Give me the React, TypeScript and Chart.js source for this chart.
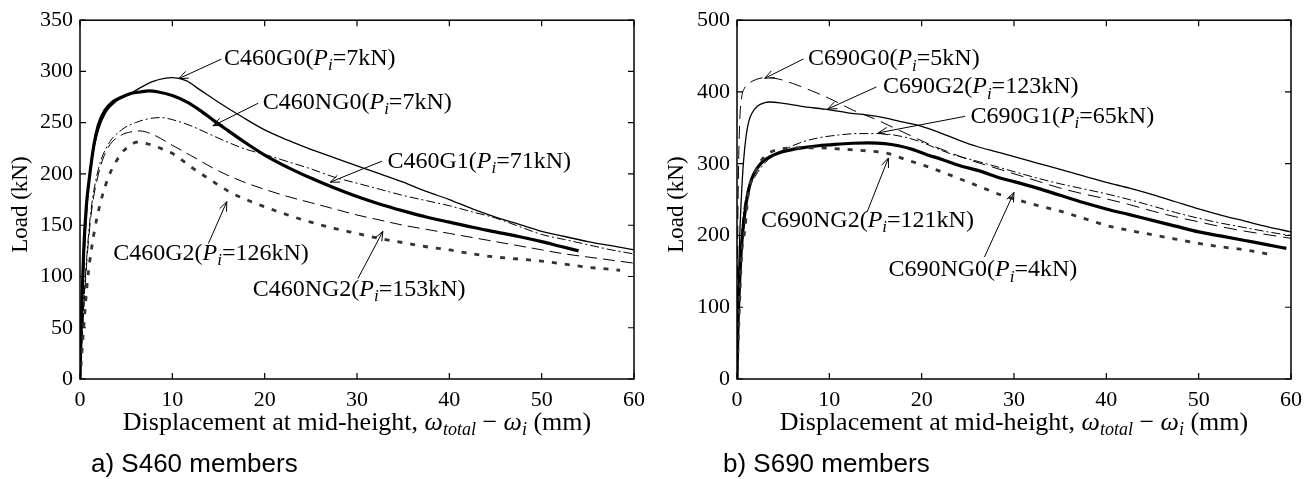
import React, { useEffect, useRef } from "react";
import { Chart, registerables } from "chart.js";

Chart.register(...registerables);

const SERIF = '"Liberation Serif", "Times New Roman", serif';
const SANS = '"Liberation Sans", Arial, sans-serif';

// ---------- Panel a) S460 ----------
const a_xTicks = [0, 10, 20, 30, 40, 50, 60];
const a_yTicks = [0, 50, 100, 150, 200, 250, 300, 350];

const c460G0_x = [0, 0.2, 0.5, 0.9, 1.4, 2.0, 2.8, 3.8, 5.0, 6.5, 8.0, 9.0, 10.0, 11.5, 13, 15, 17.5, 20, 22.5, 25, 27.5, 30, 32.5, 35, 37.5, 40, 42.5, 45, 47.5, 50, 52.5, 55, 57.5, 60];
const c460G0_y = [0, 60, 130, 185, 220, 243, 260, 270, 276, 284, 290.5, 293, 294, 291, 282, 270, 256, 243, 233, 224, 216, 208, 200, 192, 183, 175, 166, 158, 151, 144, 139, 134, 130, 126];

const c460NG0_x = [0, 0.15, 0.4, 0.7, 1.0, 1.5, 2.0, 2.7, 3.5, 4.5, 5.5, 6.5, 7.5, 8.5, 10, 11.5, 13, 14.5, 16, 18, 20, 22.5, 25, 27.5, 30, 32.5, 35, 37.5, 40, 42.5, 45, 47.5, 50, 52, 54];
const c460NG0_y = [0, 60, 125, 170, 195, 228, 248, 262, 270, 275, 278.5, 280, 281, 280, 276.5, 270.5, 262, 252, 242.5, 230, 218.5, 206.5, 196, 186.5, 178, 170.5, 164, 158, 153, 148, 143.5, 139, 134, 129.5, 125];

const c460G1_x = [0, 0.3, 0.7, 1.2, 2, 3, 4.5, 6, 7.5, 8.75, 10, 12, 14, 16, 18, 20, 22.5, 25, 27.5, 30, 32.5, 35, 37.5, 40, 42.5, 45, 47.5, 50, 52.5, 55, 57.5, 60];
const c460G1_y = [0, 55, 115, 165, 205, 228, 243, 250, 254, 255, 253, 247, 239, 231, 224, 219, 212, 205, 197, 191, 185, 179, 174, 169, 163, 157, 149, 141, 136, 131, 126, 122];

const c460NG2_x = [0, 0.3, 0.7, 1.2, 2, 3, 4.5, 5.5, 6.5, 8, 10, 12, 15, 17.5, 20, 22.5, 25, 27.5, 30, 32.5, 35, 37.5, 40, 42.5, 45, 47.5, 50, 52.5, 55, 57.5, 60];
const c460NG2_y = [0, 50, 110, 160, 200, 225, 238, 241, 242, 238, 228, 218, 203, 193, 185, 178, 172, 166, 160, 155, 150, 146, 142, 138, 134, 130, 126, 122, 119, 116, 113];

const c460G2_x = [0, 0.4, 0.8, 1.3, 1.9, 3, 4.4, 5.3, 6.2, 7.5, 9, 10.2, 12, 14, 16.3, 18, 20, 22.5, 25, 27.5, 30, 32.5, 35, 37.5, 40, 42.5, 45, 47.5, 50, 52.5, 55, 57.5, 58.5];
const c460G2_y = [0, 50, 95, 130, 160, 195, 219, 227, 231, 229, 224, 219, 207, 195, 182, 175, 168, 160, 153, 147, 142, 137, 133, 129, 126, 122, 119, 117, 115, 112, 109, 107, 106];

// ---------- Panel b) S690 ----------
const b_xTicks = [0, 10, 20, 30, 40, 50, 60];
const b_yTicks = [0, 100, 200, 300, 400, 500];

const c690G0_x = [0, 0.05, 0.15, 0.3, 0.5, 0.8, 1.3, 2, 3, 4.5, 6, 8, 10, 12.5, 15, 17, 19, 21, 23, 25, 27, 30, 32.5, 35, 37.5, 40, 42.5, 45, 47.5, 50, 52.5, 55, 57.5, 60];
const c690G0_y = [0, 150, 280, 360, 392, 405, 412, 417, 420, 418, 412, 402, 391, 375, 362, 350, 338, 326, 316, 306, 298, 286, 276, 266, 258, 251, 243, 234, 226, 219, 212, 206, 201, 196];

const c690G2_x = [0, 0.1, 0.3, 0.5, 0.7, 1.0, 1.3, 1.6, 2.2, 3.0, 3.6, 5, 7, 9.5, 12, 14, 16, 18, 20, 22, 24, 26, 28, 30, 32.5, 35, 37.5, 40, 42.5, 45, 47.5, 50, 52.5, 55, 57.5, 60];
const c690G2_y = [0, 100, 200, 260, 302, 340, 360, 370, 380, 385, 386, 384, 380, 376, 371, 368, 364, 358, 352, 343, 333, 324, 317, 310, 301, 292, 283, 274, 266, 257, 247, 237, 228, 220, 212, 205];

const c690G1_x = [0, 0.2, 0.5, 1.0, 2, 3.4, 5.2, 7, 8.8, 11, 13, 15.3, 17, 18.5, 20, 21.5, 23.3, 25, 27, 30, 32.5, 35, 37.5, 40, 42.5, 45, 47.5, 50, 52.5, 55, 57.5, 60];
const c690G1_y = [0, 100, 200, 255, 283, 306, 320, 330, 336, 340, 342, 342, 340, 336, 330, 322, 313, 307, 300, 289, 280, 272, 265, 258, 250, 241, 232, 224, 217, 211, 205, 200];

const c690NG0_x = [0, 0.1, 0.3, 0.5, 0.87, 1.2, 1.6, 2.1, 2.7, 3.5, 4.5, 5.7, 7, 8.8, 10.6, 12.5, 14.2, 16, 17.5, 19, 20.5, 22.2, 24, 26.5, 28.5, 30, 32.5, 35, 37.5, 40, 42.5, 45, 47.5, 50, 52.5, 55, 57.5, 59.5];
const c690NG0_y = [0, 70, 140, 187, 233, 260, 279, 292, 302, 309, 315, 319, 322, 325, 327, 328.5, 329, 328, 325, 320, 313, 306, 298, 289, 280, 275, 266, 256, 246, 237, 229, 221, 213, 205, 199, 193, 187, 182];

const c690NG2_x = [0, 0.2, 0.5, 0.87, 1.2, 1.95, 2.85, 4.5, 6.3, 8.8, 11.7, 14, 16.4, 18.2, 20.4, 23.3, 26.9, 28.7, 30, 32.5, 35, 37.5, 40, 42.5, 45, 47.5, 50, 52.5, 55, 58];
const c690NG2_y = [0, 80, 173, 210, 256, 288, 308, 320, 322, 322, 320, 318, 314, 306, 297, 283, 265, 256, 251, 242, 234, 224, 214, 207, 201, 195, 189, 184, 180, 173];

// ---------- helpers ----------
type Seg = { t: string; it?: boolean; sub?: boolean };
type Ann = { name: string; pi: string; lx: number; ly: number; ax: number; ay: number; tx: number; ty: number };

const pts = (xs: number[], ys: number[]) => xs.map((x, i) => ({ x, y: ys[i] }));

function labelSegs(name: string, pi: string): Seg[] {
  return [
    { t: name + "(" },
    { t: "P", it: true },
    { t: "i", it: true, sub: true },
    { t: "=" + pi + "kN)" },
  ];
}

function segFont(s: Seg, size: number, family: string) {
  const sz = s.sub ? Math.round(size * 0.7) : size;
  return `${s.it ? "italic " : ""}${sz}px ${family}`;
}

function drawRich(ctx: CanvasRenderingContext2D, segs: Seg[], x: number, yMid: number, size: number, align: "left" | "center", family = SERIF) {
  let w = 0;
  for (const s of segs) {
    ctx.font = segFont(s, size, family);
    w += ctx.measureText(s.t).width;
  }
  let cx = align === "center" ? x - w / 2 : x;
  const base = yMid + size * 0.33;
  ctx.textBaseline = "alphabetic";
  ctx.textAlign = "left";
  for (const s of segs) {
    ctx.font = segFont(s, size, family);
    ctx.fillText(s.t, cx, s.sub ? base + size * 0.22 : base);
    cx += ctx.measureText(s.t).width;
  }
}

function drawArrow(ctx: CanvasRenderingContext2D, x1: number, y1: number, x2: number, y2: number) {
  const a = Math.atan2(y2 - y1, x2 - x1);
  const L = 10;
  const h = 0.38;
  ctx.beginPath();
  ctx.moveTo(x1, y1);
  ctx.lineTo(x2, y2);
  ctx.moveTo(x2 - L * Math.cos(a - h), y2 - L * Math.sin(a - h));
  ctx.lineTo(x2, y2);
  ctx.lineTo(x2 - L * Math.cos(a + h), y2 - L * Math.sin(a + h));
  ctx.stroke();
}

const xTitle: Seg[] = [
  { t: "Displacement at mid-height, " },
  { t: "ω", it: true },
  { t: "total", it: true, sub: true },
  { t: " − " },
  { t: "ω", it: true },
  { t: "i", it: true, sub: true },
  { t: " (mm)" },
];

function makeDecor(anns: Ann[], caption: string) {
  return {
    id: "decor",
    afterDraw(chart: any) {
      const { ctx, chartArea } = chart;
      const xs = chart.scales.x;
      const ys = chart.scales.y;
      const { left, right, top, bottom } = chartArea;
      ctx.save();
      ctx.strokeStyle = "#000";
      ctx.fillStyle = "#000";
      // box
      ctx.lineWidth = 1.5;
      ctx.strokeRect(left, top, right - left, bottom - top);
      // inward ticks on all sides
      ctx.lineWidth = 1.2;
      const tl = 6;
      ctx.beginPath();
      for (const t of xs.ticks) {
        const p = xs.getPixelForValue(t.value);
        ctx.moveTo(p, bottom);
        ctx.lineTo(p, bottom - tl);
        ctx.moveTo(p, top);
        ctx.lineTo(p, top + tl);
      }
      for (const t of ys.ticks) {
        const p = ys.getPixelForValue(t.value);
        ctx.moveTo(left, p);
        ctx.lineTo(left + tl, p);
        ctx.moveTo(right, p);
        ctx.lineTo(right - tl, p);
      }
      ctx.stroke();
      // annotations
      ctx.lineWidth = 1;
      for (const a of anns) {
        drawArrow(ctx, xs.getPixelForValue(a.ax), ys.getPixelForValue(a.ay), xs.getPixelForValue(a.tx), ys.getPixelForValue(a.ty));
        drawRich(ctx, labelSegs(a.name, a.pi), xs.getPixelForValue(a.lx), ys.getPixelForValue(a.ly), 24, "left");
      }
      // axis titles
      drawRich(ctx, xTitle, (left + right) / 2, bottom + 42, 26, "center");
      ctx.save();
      ctx.translate(19, (top + bottom) / 2 + 5);
      ctx.rotate(-Math.PI / 2);
      drawRich(ctx, [{ t: "Load (kN)" }], 0, 0, 23, "center");
      ctx.restore();
      // caption
      ctx.font = `26px ${SANS}`;
      ctx.textAlign = "left";
      ctx.textBaseline = "middle";
      ctx.fillText(caption, left + (caption.startsWith("a") ? 11 : -14), 465);
      ctx.restore();
    },
  };
}

const thin = { borderColor: "#000", borderWidth: 1.3 };
const thick = { borderColor: "#000", borderWidth: 3.2 };
const dashdot = { borderColor: "#000", borderWidth: 1, borderDash: [9, 3, 2, 3] };
const dashed = { borderColor: "#000", borderWidth: 1, borderDash: [12, 6] };
const dotted = { borderColor: "#333", borderWidth: 2.8, borderDash: [5, 8] };

function ds(label: string, xs: number[], ys: number[], style: any) {
  return {
    label,
    data: pts(xs, ys),
    showLine: true,
    pointRadius: 0,
    fill: false,
    cubicInterpolationMode: "monotone",
    ...style,
  };
}

function makeConfig(datasets: any[], yMax: number, yTicks: number[], xTicks: number[], padL: number, padR: number, plugin: any) {
  const tickFont = { family: SERIF, size: 22 };
  return {
    type: "scatter",
    data: { datasets },
    options: {
      responsive: false,
      animation: false,
      events: [],
      layout: { padding: { left: padL, right: padR, top: 16, bottom: 0 } },
      plugins: { legend: { display: false }, tooltip: { enabled: false } },
      scales: {
        x: {
          type: "linear",
          min: xTicks[0],
          max: xTicks[xTicks.length - 1],
          afterBuildTicks: (s: any) => { s.ticks = xTicks.map((v) => ({ value: v })); },
          ticks: { font: tickFont, color: "#000", padding: 8, maxRotation: 0, autoSkip: false },
          grid: { display: false, drawTicks: false },
          border: { display: false },
          afterFit: (s: any) => { s.height = 100; },
        },
        y: {
          type: "linear",
          min: 0,
          max: yMax,
          afterBuildTicks: (s: any) => { s.ticks = yTicks.map((v) => ({ value: v })); },
          ticks: { font: tickFont, color: "#000", padding: 7, autoSkip: false },
          grid: { display: false, drawTicks: false },
          border: { display: false },
          afterFit: (s: any) => { s.width = 60; },
        },
      },
    },
    plugins: [plugin],
  };
}

const annA: Ann[] = [
  { name: "C460G0", pi: "7", lx: 15.6, ly: 314, ax: 15.3, ay: 312, tx: 10.7, ty: 293 },
  { name: "C460NG0", pi: "7", lx: 19.8, ly: 271, ax: 19.3, ay: 269, tx: 14.4, ty: 247 },
  { name: "C460G1", pi: "71", lx: 33.3, ly: 214, ax: 32.7, ay: 212.5, tx: 27.1, ty: 192 },
  { name: "C460G2", pi: "126", lx: 3.6, ly: 124, ax: 13.9, ay: 132, tx: 15.9, ty: 173 },
  { name: "C460NG2", pi: "153", lx: 18.7, ly: 89, ax: 30.1, ay: 98, tx: 32.8, ty: 144 },
];

const annB: Ann[] = [
  { name: "C690G0", pi: "5", lx: 7.7, ly: 448, ax: 7.2, ay: 446, tx: 3.0, ty: 419 },
  { name: "C690G2", pi: "123", lx: 15.8, ly: 409, ax: 15.1, ay: 407, tx: 9.8, ty: 376 },
  { name: "C690G1", pi: "65", lx: 25.3, ly: 368, ax: 24.7, ay: 366, tx: 15.3, ty: 343 },
  { name: "C690NG2", pi: "121", lx: 2.6, ly: 223, ax: 14.1, ay: 233, tx: 16.4, ty: 308 },
  { name: "C690NG0", pi: "4", lx: 16.4, ly: 154, ax: 26.8, ay: 170, tx: 30.0, ty: 260 },
];

function PanelChart({ which }: { which: "a" | "b" }) {
  const ref = useRef<HTMLCanvasElement | null>(null);
  useEffect(() => {
    if (!ref.current) return;
    let cfg: any;
    if (which === "a") {
      const datasets = [
        ds("C460G2", c460G2_x, c460G2_y, dotted),
        ds("C460NG2", c460NG2_x, c460NG2_y, dashed),
        ds("C460G1", c460G1_x, c460G1_y, dashdot),
        ds("C460G0", c460G0_x, c460G0_y, thin),
        ds("C460NG0", c460NG0_x, c460NG0_y, thick),
      ];
      cfg = makeConfig(datasets, 350, a_yTicks, a_xTicks, 20, 22, makeDecor(annA, "a) S460 members"));
    } else {
      const datasets = [
        ds("C690NG2", c690NG2_x, c690NG2_y, dotted),
        ds("C690G0", c690G0_x, c690G0_y, { ...dashed, borderDash: [13, 7] }),
        ds("C690G1", c690G1_x, c690G1_y, dashdot),
        ds("C690G2", c690G2_x, c690G2_y, thin),
        ds("C690NG0", c690NG0_x, c690NG0_y, thick),
      ];
      cfg = makeConfig(datasets, 500, b_yTicks, b_xTicks, 21, 21, makeDecor(annB, "b) S690 members"));
    }
    const chart = new Chart(ref.current, cfg);
    return () => chart.destroy();
  }, [which]);
  return <canvas ref={ref} width={656} height={479} style={{ display: "block", width: 656, height: 479 }} />;
}

export default function App() {
  return (
    <div style={{ position: "absolute", left: 0, top: 0, width: 1312, height: 479, background: "#fff", overflow: "hidden" }}>
      <div style={{ position: "absolute", left: 0, top: 0 }}>
        <PanelChart which="a" />
      </div>
      <div style={{ position: "absolute", left: 656, top: 0 }}>
        <PanelChart which="b" />
      </div>
    </div>
  );
}
